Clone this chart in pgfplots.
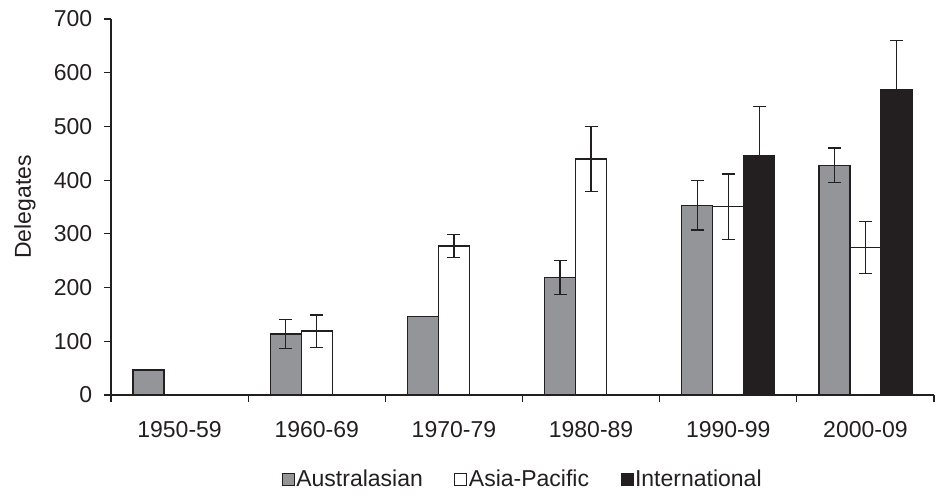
\documentclass[border=0pt]{standalone}
\usepackage{fontspec}
\setmainfont{Liberation Sans}
\usepackage{pgfplots}
\pgfplotsset{compat=1.18}
\definecolor{ink}{HTML}{231F20}
\definecolor{gbar}{HTML}{939598}
\newcommand{\chartfont}{\fontsize{23bp}{27bp}\selectfont}
\begin{document}
\chartfont
\begin{tikzpicture}
\useasboundingbox (-111bp,-100bp) rectangle (830bp,395bp);
\begin{axis}[
  scale only axis, width=823bp, height=376bp,
  at={(0,0)}, anchor=south west,
  xmin=-0.5, xmax=5.5, ymin=0, ymax=700,
  ytick={0,100,...,700},
  xtick={0,...,5},
  xticklabels={1950-59,1960-69,1970-79,1980-89,1990-99,2000-09},
  minor xtick={-0.5,0.5,...,5.5},
  major x tick style={draw=none},
  axis x line*=bottom, axis y line*=left,
  axis line style={ink, line width=1.2bp},
  every tick/.style={ink, line width=1.2bp},
  tick align=outside,
  major tick length=7bp, minor tick length=7bp,
  /pgf/number format/assume math mode=true,
  tick label style={font=\chartfont, text=ink},
  xticklabel style={yshift=-12bp},
  yticklabel style={xshift=-4bp},
  ylabel={Delegates},
  ylabel style={at={(axis description cs:-0.1045,0.5)}, anchor=center, font=\chartfont, text=ink},
  ybar=0pt, bar width=31bp,
  error bars/y dir=both, error bars/y explicit,
  error bars/error bar style={ink, line width=1.2bp},
  error bars/error mark options={rotate=90, mark size=6.5bp, line width=1.2bp, ink},
  legend style={draw=none, at={(0.5,-0.226)}, anchor=center, legend columns=3,
    font=\chartfont, text=ink,
    nodes={inner sep=1.5bp},
    /tikz/every even column/.append style={column sep=30bp},
    inner sep=0pt},
  legend image code/.code={\draw[#1, line width=1bp] (0bp,-6bp) rectangle (12bp,6bp);},
]
\addplot[fill=gbar, draw=ink, line width=1.2bp] coordinates {
  (0,46.5) +- (0,0)
  (1,113.5) +- (0,27.5)
  (2,145.5) +- (0,0)
  (3,218.5) +- (0,32)
  (4,353.5) +- (0,46.5)
  (5,428) +- (0,32)
};
\addplot[fill=white, draw=ink, line width=1.2bp] coordinates {
  (1,119) +- (0,30)
  (2,277.5) +- (0,22)
  (3,439.5) +- (0,61)
  (4,350.5) +- (0,61)
  (5,274.5) +- (0,49)
};
\addplot[fill=ink, draw=ink, line width=1.2bp] coordinates {
  (4,445.5) +- (0,92)
  (5,568.5) +- (0,92)
};
\legend{Australasian,Asia-Pacific,International}
\end{axis}
\end{tikzpicture}
\end{document}
